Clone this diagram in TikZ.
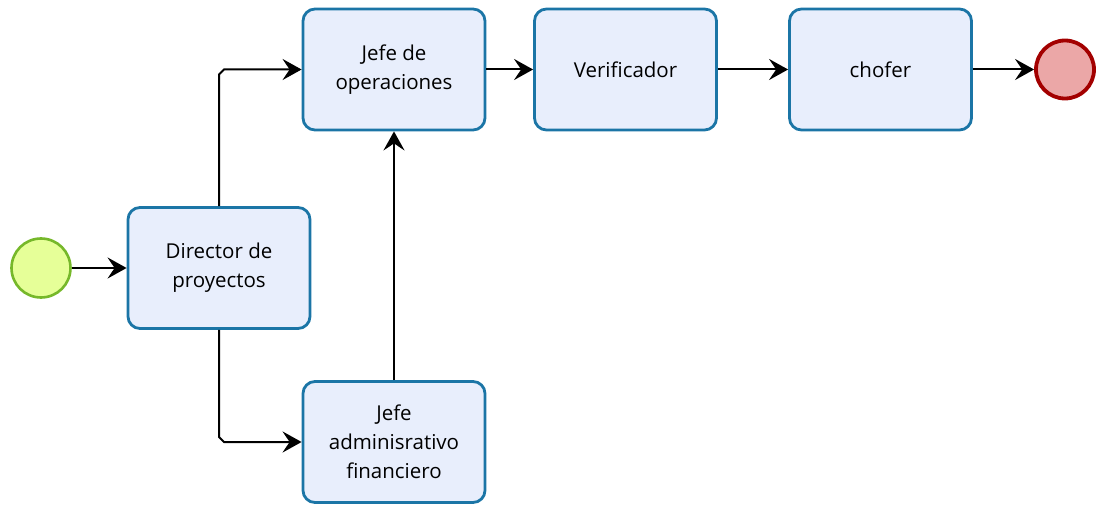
\documentclass[tikz,border=0pt]{standalone}
\usepackage{fontspec}
\setmainfont{Open Sans}
\usetikzlibrary{arrows.meta,calc}
\definecolor{boxfill}{HTML}{E8EEFC}
\definecolor{boxdraw}{HTML}{1B75A6}
\definecolor{startfill}{HTML}{E6FF98}
\definecolor{startdraw}{HTML}{76B82A}
\definecolor{endfill}{HTML}{EBA7A7}
\definecolor{enddraw}{HTML}{A30000}
\tikzset{
  task/.style={draw=boxdraw, fill=boxfill, line width=2.8pt, rounded corners=12pt,
    minimum width=182pt, minimum height=121pt, align=center, inner sep=2pt,
    font=\fontsize{20.5}{29}\selectfont, text=black},
  startev/.style={circle, draw=startdraw, fill=startfill, line width=2.6pt, minimum size=59pt, inner sep=0pt},
  endev/.style={circle, draw=enddraw, fill=endfill, line width=3.8pt, minimum size=58pt, inner sep=0pt},
  flow/.style={line width=2pt, -{Stealth[length=19pt,width=21pt,inset=7pt]}}
}
\begin{document}
\begin{tikzpicture}[x=1pt,y=-1pt]
\useasboundingbox (0,0) rectangle (1096,505);
\node[startev] (start) at (41,268) {};
\node[task] (dir) at (219,268) {Director de\\proyectos};
\node[task] (ops) at (394,69.5) {Jefe de\\operaciones};
\node[task] (ver) at (625.5,69.5) {Verificador};
\node[task] (cho) at (880.5,69.5) {chofer};
\node[endev] (end) at (1065,69.5) {};
\node[task] (adm) at (394,442) {Jefe\\adminisrativo\\financiero};
\draw[flow] (start) -- (dir);
\draw[flow] (dir.north) -- ($(dir.north |- ops.west)+(0,5)$) -- ($(dir.north |- ops.west)+(5,0)$) -- (ops.west);
\draw[flow] (dir.south) -- ($(dir.south |- adm.west)+(0,-5)$) -- ($(dir.south |- adm.west)+(5,0)$) -- (adm.west);
\draw[flow] (adm.north) -- (ops.south);
\draw[flow] (ops) -- (ver);
\draw[flow] (ver) -- (cho);
\draw[flow] (cho) -- (end);
\end{tikzpicture}
\end{document}
